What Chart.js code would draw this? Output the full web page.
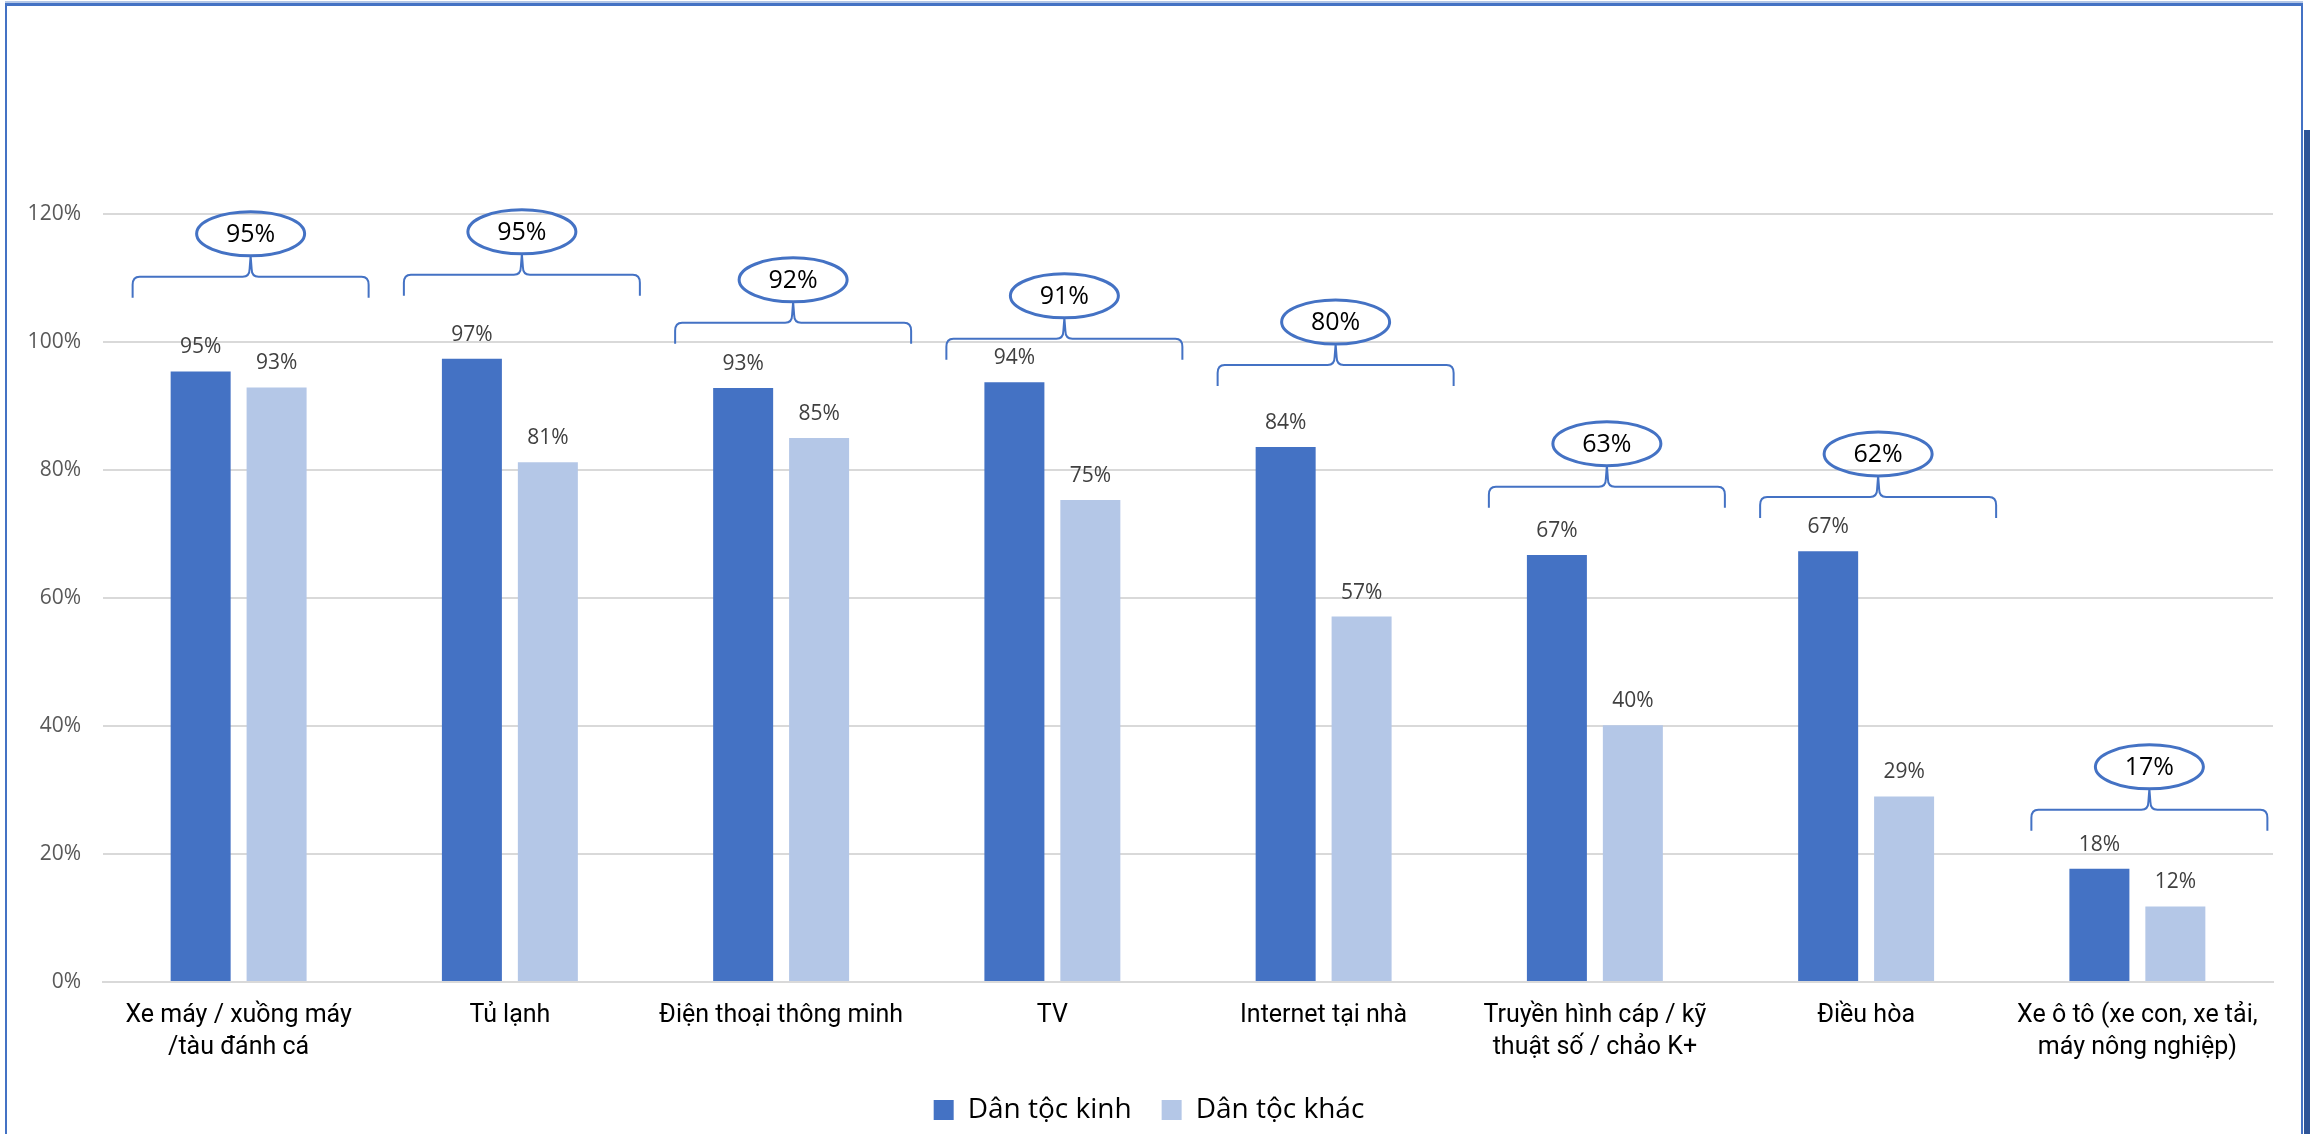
<!DOCTYPE html>
<html lang="vi">
<head>
  <meta charset="UTF-8">
  <title>Tỷ lệ hộ sở hữu tài sản</title>
  <script src="https://cdn.jsdelivr.net/npm/chart.js@4.4.0/dist/chart.umd.min.js"></script>
  <style>
    html, body { margin: 0; padding: 0; background: #fff; }
    body { width: 2310px; height: 1134px; position: relative; overflow: hidden; }
    #frame {
      position: absolute; left: 5px; top: 3px; width: 2294px; height: 1200px;
      border-left: 2px solid #4472c4; border-right: 2px solid #4472c4; border-top: 3px solid #4472c4;
      box-shadow: 0 -2px 0 #b4c7e7;
    }
    #strip { position: absolute; left: 2304px; top: 130px; width: 6px; bottom: 0; background: #2f5597; }
    #wrap { position: absolute; left: 0; top: 0; width: 2310px; height: 1134px; }
  </style>
</head>
<body>
  <div id="frame"></div>
  <div id="strip"></div>
  <div id="wrap">
    <canvas id="assetChart" width="2310" height="1134"></canvas>
  </div>

  <script>
    // data
    const categories = [
      ['Xe máy / xuồng máy', '/tàu đánh cá'],
      'Tủ lạnh',
      'Điện thoại thông minh',
      'TV',
      'Internet tại nhà',
      ['Truyền hình cáp / kỹ', 'thuật số / chảo K+'],
      'Điều hòa',
      ['Xe ô tô (xe con, xe tải,', 'máy nông nghiệp)']
    ];
    const seriesNames = ['Dân tộc kinh', 'Dân tộc khác'];
    const kinhValues = [95.4, 97.4, 92.8, 93.7, 83.6, 66.7, 67.3, 17.7];
    const khacValues = [92.9, 81.2, 85.0, 75.3, 57.1, 40.1, 29.0, 11.8];
    // overall share shown in the ellipses, and the level (in %) where each bracket sits
    const overallValues = [95, 95, 92, 91, 80, 63, 62, 17];
    const bracketLevels = [110.2, 110.5, 103.0, 100.5, 96.4, 77.4, 75.8, 26.9];
    const yTicks = [0, 20, 40, 60, 80, 100, 120];

    const darkBlue = '#4472C4';
    const lightBlue = '#B4C7E7';
    const numFont = '"Open Sans", "DejaVu Sans", sans-serif';
    const catFont = 'Roboto, "Open Sans", sans-serif';

    // percent labels above each bar
    const barLabels = {
      id: 'barLabels',
      afterDatasetsDraw(chart) {
        const ctx = chart.ctx;
        ctx.save();
        ctx.fillStyle = '#404040';
        ctx.font = '21px ' + numFont;
        ctx.textAlign = 'center';
        ctx.textBaseline = 'middle';
        chart.data.datasets.forEach((ds, di) => {
          chart.getDatasetMeta(di).data.forEach((bar, i) => {
            ctx.fillText(Math.round(ds.data[i]) + '%', bar.x, bar.y - 24);
          });
        });
        ctx.restore();
      }
    };

    // curly bracket + ellipse with the overall value
    const groupBadges = {
      id: 'groupBadges',
      afterDatasetsDraw(chart) {
        const ctx = chart.ctx;
        const xs = chart.scales.x, ys = chart.scales.y;
        const w = 118;
        ctx.save();
        ctx.strokeStyle = darkBlue;
        overallValues.forEach((v, i) => {
          const x = xs.getPixelForValue(i) + 12;
          const L = ys.getPixelForValue(bracketLevels[i]);

          ctx.lineWidth = 2;
          ctx.beginPath();
          ctx.moveTo(x - w, L + 21);
          ctx.lineTo(x - w, L + 8);
          ctx.quadraticCurveTo(x - w, L, x - w + 7, L);
          ctx.lineTo(x - 8, L);
          ctx.quadraticCurveTo(x - 1, L, x - 1, L - 8);
          ctx.lineTo(x, L - 21);
          ctx.lineTo(x + 1, L - 8);
          ctx.quadraticCurveTo(x + 1, L, x + 8, L);
          ctx.lineTo(x + w - 7, L);
          ctx.quadraticCurveTo(x + w, L, x + w, L + 8);
          ctx.lineTo(x + w, L + 21);
          ctx.stroke();

          const cy = L - 43;
          ctx.lineWidth = 3;
          ctx.beginPath();
          ctx.ellipse(x, cy, 54, 22, 0, 0, Math.PI * 2);
          ctx.stroke();

          ctx.fillStyle = '#000';
          ctx.font = '25px ' + numFont;
          ctx.textAlign = 'center';
          ctx.textBaseline = 'middle';
          ctx.fillText(v + '%', x, cy + 1);
        });
        ctx.restore();
      }
    };

    new Chart(document.getElementById('assetChart'), {
      type: 'bar',
      data: {
        labels: categories,
        datasets: [
          { label: seriesNames[0], data: kinhValues, backgroundColor: darkBlue, categoryPercentage: 0.56, barPercentage: 0.79 },
          { label: seriesNames[1], data: khacValues, backgroundColor: lightBlue, categoryPercentage: 0.56, barPercentage: 0.79 }
        ]
      },
      options: {
        responsive: false,
        animation: false,
        layout: { padding: { left: 25, right: 37, top: 214, bottom: 0 } },
        scales: {
          x: {
            afterFit: s => { s.height = 84; },
            grid: { display: false, drawTicks: false },
            border: { display: true, color: '#d9d9d9', width: 2 },
            ticks: { color: '#000', font: { family: catFont, size: 25, lineHeight: '32px' }, padding: 18, maxRotation: 0, autoSkip: false }
          },
          y: {
            min: 0,
            max: 120,
            afterBuildTicks: s => { s.ticks = yTicks.map(v => ({ value: v })); },
            afterFit: s => { s.width = 78; },
            grid: { color: '#d9d9d9', lineWidth: 2, drawTicks: false },
            border: { display: false },
            ticks: { color: '#595959', font: { family: numFont, size: 21 }, padding: 22, callback: v => v + '%' }
          }
        },
        plugins: {
          legend: {
            position: 'bottom',
            labels: { boxWidth: 20, boxHeight: 20, padding: 30, color: '#000', font: { family: numFont, size: 28 } }
          },
          tooltip: { enabled: false }
        }
      },
      plugins: [barLabels, groupBadges]
    });
  </script>
</body>
</html>
